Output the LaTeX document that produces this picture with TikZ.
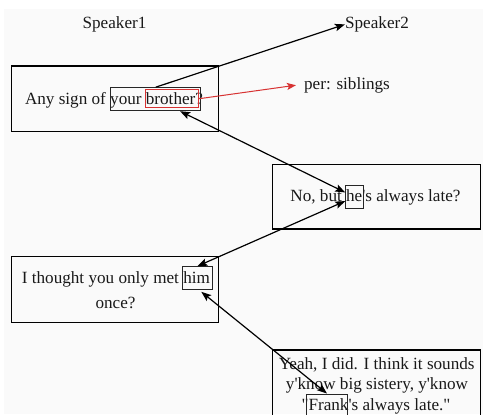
\documentclass[tikz,border=0pt]{standalone}
\usepackage{fontspec}
\newfontfamily\dlgfont{Liberation Serif}
\usetikzlibrary{arrows.meta}
\definecolor{pagebg}{RGB}{250,250,250}
\definecolor{inkc}{RGB}{25,25,25}
\definecolor{relred}{RGB}{215,50,50}
\tikzset{
  >={Stealth[length=10bp,width=7.5bp,inset=2bp]},
  utter/.style={draw=black, line width=1.3bp, rectangle, inner sep=0pt},
  mention/.style={draw=black!85, line width=1bp, rectangle, inner sep=0pt},
  relbox/.style={draw=relred, line width=1bp, rectangle, inner sep=0pt},
  words/.style={font=\dlgfont\fontsize{17.2}{20.5}\selectfont, text=inkc, inner sep=0pt, anchor=base},
  link/.style={draw=black, line width=1.2bp},
  rellink/.style={draw=relred, line width=1bp, ->, >={Stealth[length=9bp,width=7bp,inset=2bp]}},
}
\begin{document}
\begin{tikzpicture}[x=1bp, y=-1bp]
  \useasboundingbox (0,0) rectangle (483,414);
  \clip (0,0) rectangle (483,414);
  \fill[pagebg] (4,9) rectangle (483,414);

  % speaker headers
  \node[words] (sp1) at (114.5,28.5) {Speaker1};
  \node[words] (sp2) at (377,28.5) {Speaker2};

  % utterance frames
  \node[utter, minimum width=206.6bp, minimum height=65.7bp] (u1) at (115,98.85) {};
  \node[utter, minimum width=208bp, minimum height=64.7bp] (u2) at (376.7,196.65) {};
  \node[utter, minimum width=206.6bp, minimum height=65.6bp] (u3) at (115,289.5) {};
  \node[utter, minimum width=208bp, minimum height=80bp] (u4) at (376.7,390) {};

  % utterance texts
  \node[words] (t1) at (114,104.3) {Any sign of your brother?};
  \node[words] (t2) at (375.5,201.7) {No, but he's always late?};
  \node[words] (t3a) at (115.9,283.3) {I thought you only met him};
  \node[words] (t3b) at (115.5,308.3) {once?};
  \node[words] (t4a) at (376.7,369.3) {Yeah, I did. I think it sounds};
  \node[words] (t4b) at (377,389.8) {y'know big sistery, y'know};
  \node[words] (t4c) at (376,410.3) {"Frank's always late."};

  % mention boxes
  \node[mention, minimum width=90bp, minimum height=23bp] (yb) at (155.7,99.2) {};
  \node[relbox, minimum width=53bp, minimum height=18bp] (rb) at (172.2,98.7) {};
  \node[mention, minimum width=17.6bp, minimum height=22.6bp] (he) at (354.5,197) {};
  \node[mention, minimum width=30bp, minimum height=22.6bp] (him) at (197.3,278) {};
  \node[mention, minimum width=40.6bp, minimum height=22.6bp] (fr) at (327,405.3) {};

  % relation label
  \node[words] (rel) at (347,89.3) {per: siblings};

  % links
  \draw[link, ->] (yb.north) -- (sp2.west);
  \draw[rellink] (rb.east) -- ([xshift=-8bp]rel.west);
  \draw[link, <->] (yb) -- (he);
  \draw[link, <->] (he) -- (him.north);
  \draw[link, <->] ([shift={(4,2)}]him.south) -- (fr.north);
\end{tikzpicture}
\end{document}
